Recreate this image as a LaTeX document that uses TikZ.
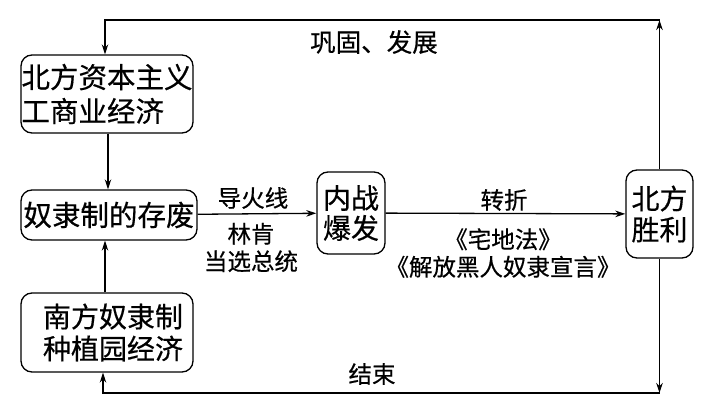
\documentclass[tikz,border=0pt]{standalone}
\usepackage{fontspec}
\setmainfont{Noto Sans CJK SC}[FakeBold=0.5]
\usetikzlibrary{arrows.meta,positioning}

\begin{document}
\begin{tikzpicture}[
    x=1pt, y=-1pt,
    box/.style={rectangle, draw, line width=1.3pt, rounded corners=11pt, inner sep=0pt, align=center, font=\fontsize{28}{32}\selectfont},
    lbl/.style={inner sep=0pt, align=center, font=\fontsize{23.5}{27.5}\selectfont},
    arrow/.style={-{Stealth[length=10pt,width=6.5pt]}, line width=1.3pt}
]
\useasboundingbox (0,0) rectangle (713,412);

% Nodes
\node[box, minimum width=172pt, minimum height=78pt, align=left, font=\fontsize{28.5}{34}\selectfont] (north) at (107,94) {北方资本主义\\工商业经济};
\node[box, minimum width=176pt, minimum height=50pt, font=\fontsize{28.5}{32}\selectfont] (slavery) at (109,215) {奴隶制的存废};
\node[box, minimum width=172pt, minimum height=79pt] (south) at (107,332.5) {\hspace*{12pt}南方奴隶制\\\hspace*{12pt}种植园经济};
\node[box, minimum width=68pt, minimum height=82pt, font=\fontsize{28}{30}\selectfont] (war) at (351,213) {内战\\爆发};
\node[box, minimum width=67pt, minimum height=88pt, font=\fontsize{28}{31}\selectfont] (win) at (659.5,214) {北方\\胜利};
\coordinate (top) at (659.5,20);
\coordinate (bottom) at (659.5,393);

% Arrows
\draw[arrow] (north.south -| 108,0) -- (slavery.north -| 108,0);
\draw[arrow] (south.north -| 105,0) -- (slavery.south -| 105,0);
\draw[arrow] (slavery) -- (war);
\draw[arrow] (war) -- (win);
\draw[arrow] (win) -- (top);
\draw[arrow] (top) -| (north.north -| 105,0);
\draw[arrow] (win) -- (bottom);
\draw[arrow] (bottom) -| (south.south -| 103,0);

% Labels
\node[lbl, font=\fontsize{25.5}{28}\selectfont] (consolidate) at (374,42) {巩固、发展};
\node[lbl] (fuse) at (253,198) {导火线};
\node[lbl] (lincoln) at (251,247.5) {林肯\\当选总统};
\node[lbl] (turn) at (504,200) {转折};
\node[lbl] (acts) at (503,253) {《宅地法》\\《解放黑人奴隶宣言》};
\node[lbl] (ending) at (372,374) {结束};

\end{tikzpicture}
\end{document}
